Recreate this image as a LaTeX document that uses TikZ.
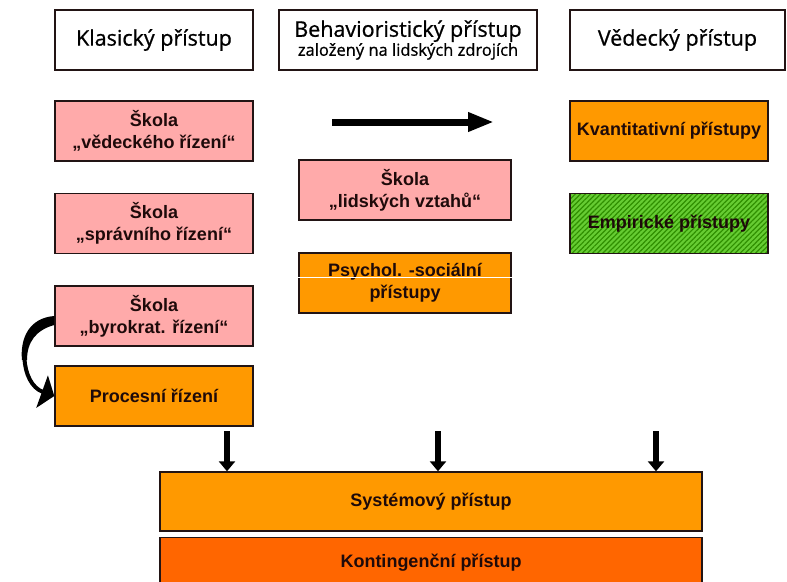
\documentclass[tikz,border=0pt]{standalone}
\usepackage{fontspec}
\setmainfont{Liberation Sans}
\newfontfamily\handfont[FakeBold=0.8]{Open Sans}
\usepackage{tikz}
\usetikzlibrary{calc}
\usetikzlibrary{arrows.meta}
\usetikzlibrary{patterns.meta}
\definecolor{pinkfill}{HTML}{FFAAAA}
\definecolor{orangefill}{HTML}{FF9900}
\definecolor{darkorange}{HTML}{FF6600}
\definecolor{greenfill}{HTML}{66CC33}
\definecolor{greenline}{HTML}{2F8F00}
\definecolor{boxline}{HTML}{221414}
\definecolor{textcol}{HTML}{1E0A0A}
\tikzset{
  basebox/.style={draw=boxline, line width=1.4pt, align=center, inner sep=0pt,
    text=textcol, font=\bfseries\fontsize{18}{22}\selectfont},
  headbox/.style={basebox, fill=white, minimum height=60pt, text=black,
    font=\handfont\fontsize{21.5}{23}\selectfont},
  pinkbox/.style={basebox, fill=pinkfill, minimum width=198pt, minimum height=60pt},
  orangebox/.style={basebox, fill=orangefill, minimum width=198pt, minimum height=60pt},
  greenbox/.style={basebox, preaction={fill=greenfill},
    pattern={Lines[angle=45,distance=3.6pt,line width=1.2pt]}, pattern color=greenline,
    minimum width=198pt, minimum height=60pt},
  bigarrow/.style={line width=7pt, -{Triangle[length=26pt,width=18pt]}},
  downarrow/.style={line width=5.5pt, -{Triangle[length=10pt,width=16pt]}}
}
\begin{document}
\begin{tikzpicture}[x=1pt,y=-1pt]
  \useasboundingbox[fill=white] (0,0) rectangle (787,581);
  % column heads
  \node[headbox, minimum width=198pt] (klas) at (154,40) {Klasický přístup};
  \node[headbox, minimum width=258pt] (behav) at (408,40)
    {Behavioristický přístup\\[-4pt]{\fontsize{16.5}{18}\selectfont založený na lidských zdrojích}};
  \node[headbox, minimum width=215pt] (vedec) at (677.5,40) {Vědecký přístup};

  \node[pinkbox] (vedeck) at (154,131) {Škola\\„vědeckého řízení“};
  \node[pinkbox] (sprav) at (154,223.5) {Škola\\„správního řízení“};
  \node[pinkbox] (byro) at (154,316) {Škola\\„byrokrat. řízení“};
  \node[orangebox] (proc) at (154,396) {Procesní řízení};

  \node[pinkbox, minimum width=212pt] (lidsk) at (405,190) {Škola\\„lidských vztahů“};
  \node[orangebox, minimum width=212pt] (psych) at (405,283) {Psychol. -sociální\\přístupy};
  \draw[white, line width=0.8pt] ($(psych.west)+(0,-6)$) -- ($(psych.east)+(0,-6)$);

  \node[orangebox] (kvant) at (669,131) {Kvantitativní přístupy};
  \node[greenbox] (empir) at (669,223.5) {Empirické přístupy};

  \node[orangebox, minimum width=542pt, minimum height=59pt] (system) at (431,501.5) {Systémový přístup};
  \node[basebox, fill=darkorange, minimum width=542pt, minimum height=50pt, anchor=north] (konting) at (431,537)
    {Kontingenční přístup};

  \coordinate (arrL) at (332,122);
  \coordinate (arrR) at (494,122);
  \draw[bigarrow] (arrL) -- (arrR);

  \fill[black] ($(byro.west)+(0,0)$) .. controls (28,318) and (20,340) .. (22,360)
    -- (27,360) .. controls (27,342) and (36,330) .. ($(byro.west)+(0,9)$) -- cycle;
  \draw[line width=4pt, -{Triangle[length=13pt,width=34pt]}] (24.5,358)
    .. controls (25,374) and (32,388) .. (proc.west);

  \coordinate (d1) at (227,431);
  \coordinate (d2) at (438,431);
  \coordinate (d3) at (656,431);
  \draw[downarrow] (d1) -- (d1 |- system.north);
  \draw[downarrow] (d2) -- (d2 |- system.north);
  \draw[downarrow] (d3) -- (d3 |- system.north);
\end{tikzpicture}
\end{document}
